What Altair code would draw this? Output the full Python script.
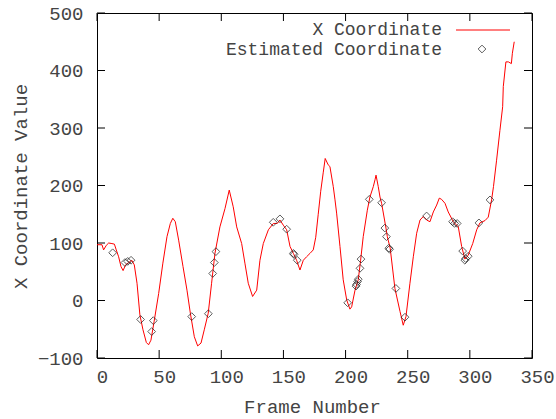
import altair as alt
import pandas as pd

# Tracked x coordinate per frame (red line)
track_frame = [0, 4, 5.3, 7.5, 9.4, 12, 14, 15.5, 17.4, 19.3, 21, 23, 25.5, 28, 30, 32.2,
               34.5, 37, 39.7, 41.5, 43.4, 46, 49.6, 53, 56.3, 59, 61, 63, 65.7, 69.2,
               72.4, 75.1, 78.3, 81, 83.7, 86.3, 89.5, 92.2, 94.9, 98.9, 103, 106.4, 109.6,
               112.4, 116.4, 119, 121.7, 125.2, 128.5, 131.1, 133.8, 137.9, 141.9, 145.1,
               147.2, 149.9, 152.6, 155.3, 158, 160.6, 163.3, 166, 168.6, 171.4, 174, 176,
               178, 180, 182, 183.6, 186, 187.4, 190.1, 191.5, 192.8, 195.5, 198.1, 200.9,
               203.5, 204.9, 207.6, 210.2, 212.1, 214.2, 217.5, 219.6, 222.3, 223.7, 224.5,
               226.3, 227.7, 229, 232.5, 233.6, 235.9, 239.7, 243.8, 246.4, 248.6, 251.8,
               254.5, 257.2, 259.9, 262.5, 265.2, 267.9, 270.6, 273.3, 275.4, 277.2, 280,
               282.6, 286.7, 290.7, 293.4, 296, 298.7, 302.3, 305.5, 308.1, 312.2, 314.8,
               317.5, 319, 321.5, 324.2, 326.4, 326.9, 329, 331, 333.4, 334.2, 335.7]
track_value = [97, 97, 88, 96, 100, 99, 98, 88, 76, 59, 52, 62, 66, 70, 62, 30,
               -25, -51, -73, -77, -69, -36, 12, 65, 111, 134, 143, 137, 105, 59,
               18, -22, -63, -79, -74, -51, -22, 30, 82, 128, 160, 192, 163,
               128, 99, 65, 30, 7, 18, 70, 99, 123, 134, 134,
               140, 131, 123, 94, 82, 70, 53, 70, 76, 82, 88, 110,
               150, 190, 222, 247, 236, 233, 198, 175, 152, 94, 36, 1,
               -15, -11, 18, 36, 70, 111, 157, 180, 198, 210, 218,
               198, 180, 169, 126, 111, 91, 21, -19, -43, -28, 30,
               76, 117, 140, 146, 140, 137, 154, 166, 178, 176, 169,
               154, 137, 128, 94, 72, 79, 99, 123, 135, 139, 145,
               175, 198, 244, 296, 337, 372, 415, 415, 412, 430, 450]

# Estimated coordinates (diamonds)
est_frame = [12.6, 22.5, 24.7, 27.4, 35.1, 44, 45.3, 76.2, 89.6, 93.1, 94.4, 95.7,
             141.8, 147.2, 152.6, 158, 158.5, 161.1, 201.7, 208.4, 208.8, 209.7, 210.2,
             211.6, 212.4, 219.1, 229, 231.6, 232.9, 234.8, 235.4, 240.5, 247.8, 265.2,
             286.1, 287.7, 289.8, 294.2, 296, 296.6, 298.7, 307.3, 316.2]
est_value = [83, 66, 68, 70, -33, -54, -35, -28, -23, 47, 66, 85,
             136, 142, 124, 82, 80, 70, -4, 25, 28, 33, 37,
             56, 72, 176, 170, 126, 111, 91, 89, 21, -29, 147,
             137, 134, 134, 86, 70, 73, 77, 135, 175]

x_ticks = [0, 50, 100, 150, 200, 250, 300, 350]
y_ticks = [-100, 0, 100, 200, 300, 400, 500]

W, H = 435, 345
TICK = 8
FONT = "Liberation Mono"
FS = 19
KEY_FS = 18
INK = "#444444"
MARK = "#1a1a1a"

track = pd.DataFrame({"frame": track_frame, "value": track_value})
est = pd.DataFrame({"frame": est_frame, "value": est_value})
xt = pd.DataFrame({"v": x_ticks})
yt = pd.DataFrame({"v": y_ticks})

xscale = alt.Scale(domain=[0, 350], nice=False, zero=False)
yscale = alt.Scale(domain=[-100, 500], nice=False, zero=False)

line = alt.Chart(track).mark_line(color="#ff0000", strokeWidth=1).encode(
    x=alt.X("frame:Q", scale=xscale,
            axis=alt.Axis(title="Frame Number", values=x_ticks, tickSize=0, domain=False,
                          grid=False, labelPadding=9, labelFlush=False, labelOffset=5,
                          titleX=215, titleY=48, titleBaseline="middle")),
    y=alt.Y("value:Q", scale=yscale,
            axis=alt.Axis(title="X Coordinate Value", values=y_ticks, tickSize=0,
                          domain=False, grid=False, labelPadding=14, labelFlush=False,
                          titleX=-77, titleY=173, titleAngle=270,
                          titleAlign="center", titleBaseline="middle")),
)

points = alt.Chart(est).mark_point(shape="diamond", filled=False, color=MARK,
                                   size=60, strokeWidth=1).encode(
    x=alt.X("frame:Q", scale=xscale),
    y=alt.Y("value:Q", scale=yscale),
)

# Inward tick marks on all four sides
tick_style = dict(color="#000000", strokeWidth=1)
bottom_ticks = alt.Chart(xt).mark_rule(**tick_style).encode(
    x=alt.X("v:Q", scale=xscale), y=alt.value(H), y2=alt.value(H - TICK))
top_ticks = alt.Chart(xt).mark_rule(**tick_style).encode(
    x=alt.X("v:Q", scale=xscale), y=alt.value(0), y2=alt.value(TICK))
left_ticks = alt.Chart(yt).mark_rule(**tick_style).encode(
    y=alt.Y("v:Q", scale=yscale), x=alt.value(0), x2=alt.value(TICK))
right_ticks = alt.Chart(yt).mark_rule(**tick_style).encode(
    y=alt.Y("v:Q", scale=yscale), x=alt.value(W), x2=alt.value(W - TICK))

# Key in the top-right corner
key_text = dict(font=FONT, fontSize=KEY_FS, color=INK, align="right", baseline="middle")
key1 = alt.Chart(pd.DataFrame({"t": ["X Coordinate"]})).mark_text(**key_text).encode(
    text="t:N", x=alt.value(345), y=alt.value(17))
key2 = alt.Chart(pd.DataFrame({"t": ["Estimated Coordinate"]})).mark_text(**key_text).encode(
    text="t:N", x=alt.value(345), y=alt.value(36.5))
key_line = alt.Chart(pd.DataFrame({"t": [0]})).mark_rule(color="#ff0000", strokeWidth=1).encode(
    x=alt.value(359), x2=alt.value(413), y=alt.value(17))
key_point = alt.Chart(pd.DataFrame({"t": [0]})).mark_point(
    shape="diamond", filled=False, color=MARK, size=60, strokeWidth=1).encode(
    x=alt.value(385), y=alt.value(36))

chart = alt.layer(
    line, points, bottom_ticks, top_ticks, left_ticks, right_ticks,
    key1, key2, key_line, key_point
).properties(
    width=W, height=H,
    autosize=alt.AutoSizeParams(type="none"),
    padding={"left": 97, "top": 13, "right": 24, "bottom": 61},
    background="#ffffff",
).configure_view(
    stroke="#000000", strokeWidth=1
).configure_axis(
    labelFont=FONT, labelFontSize=FS, labelColor=INK,
    titleFont=FONT, titleFontSize=FS, titleColor=INK, titleFontWeight="normal",
)

chart.save("out.html", embed_options={"renderer": "svg", "actions": False})
